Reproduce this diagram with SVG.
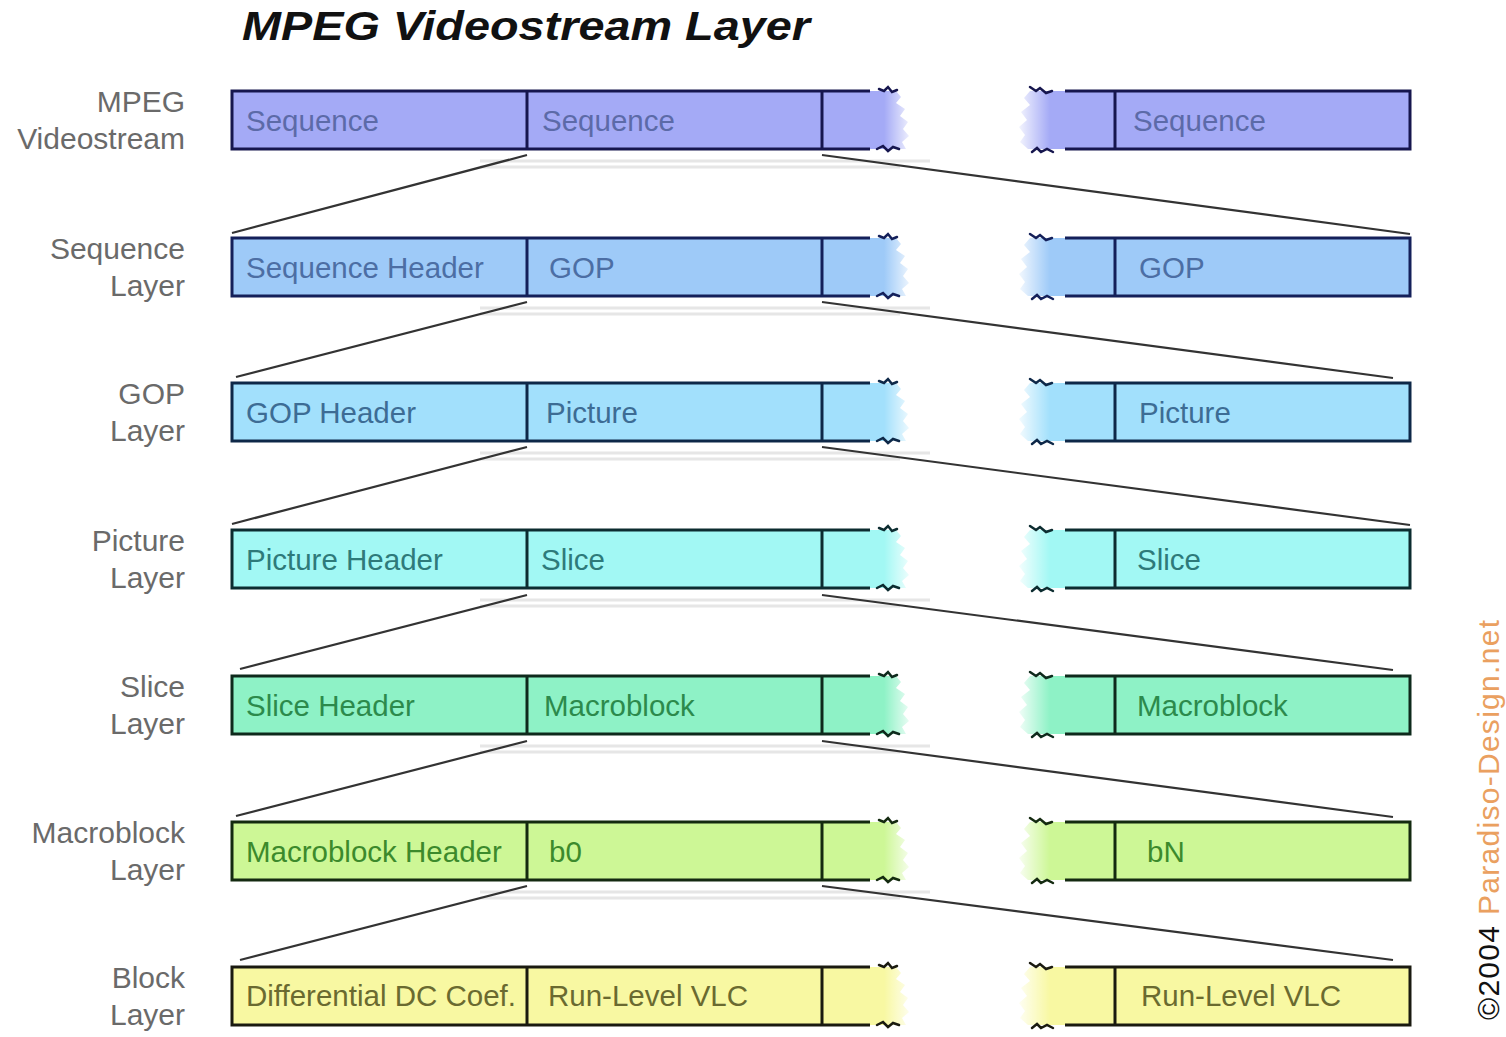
<svg xmlns="http://www.w3.org/2000/svg" xmlns:xlink="http://www.w3.org/1999/xlink" width="1506" height="1037" viewBox="0 0 1506 1037">
  <style>
    .title { font-family: "Liberation Sans", Arial, sans-serif; font-weight: 900; font-style: italic; font-size: 40px; fill: #111; }
    .side { font-family: "Liberation Sans", Arial, sans-serif; font-size: 30px; fill: #6a6a6a; text-anchor: end; }
    .cell { font-family: "Liberation Sans", Arial, sans-serif; font-size: 29.5px; }
    .link { stroke: #333; stroke-width: 2.2; fill: none; }
    .ghost { stroke: #e6e6e6; stroke-width: 3; fill: none; }
    .copy { font-family: "Liberation Sans", Arial, sans-serif; font-size: 30px; }
  </style>
  <defs>
    <linearGradient id="fadeR" x1="0" y1="0" x2="1" y2="0">
      <stop offset="0" stop-color="#fff" stop-opacity="0"/>
      <stop offset="1" stop-color="#fff" stop-opacity="0.95"/>
    </linearGradient>
    <linearGradient id="fadeL" x1="0" y1="0" x2="1" y2="0">
      <stop offset="0" stop-color="#fff" stop-opacity="0.95"/>
      <stop offset="1" stop-color="#fff" stop-opacity="0"/>
    </linearGradient>
    <!-- one stream row: fill taken from the <use> fill, lines from its color -->
    <g id="frame">
      <rect x="232" y="0" width="648" height="58"/>
      <path d="M870,0 H896 L901,6 L896,12 L905,18 L900,25 L908,31 L903,38 L909,45 L902,51 L906,58 H870 Z"/>
      <rect x="884" y="-2" width="30" height="62" fill="url(#fadeR)"/>
      <rect x="1115" y="0" width="295" height="58"/>
      <path d="M1116,0 H1030 L1024,7 L1030,14 L1021,21 L1027,29 L1019,36 L1025,44 L1020,51 L1028,58 H1116 Z"/>
      <rect x="1016" y="-2" width="34" height="62" fill="url(#fadeL)"/>
      <g fill="none" stroke="currentColor" stroke-width="3">
        <path d="M870,0 H232 V58 H870"/>
        <path d="M527,0 V58 M822,0 V58"/>
        <path d="M1065,0 H1410 V58 H1065"/>
        <path d="M1115,0 V58"/>
      </g>
      <g fill="none" stroke="currentColor" stroke-width="2.5" stroke-linecap="round">
        <path d="M879,-2 l5,2 4,-4 4,5 5,-2"/>
        <path d="M877,58 l6,-3 5,5 5,-4 6,2"/>
        <path d="M1030,-4 l6,4 4,-3 6,5 6,-2"/>
        <path d="M1032,61 l5,-4 4,4 6,-3 6,3"/>
      </g>
    </g>
  </defs>

  <text class="title" x="242" y="40" textLength="568" lengthAdjust="spacingAndGlyphs">MPEG Videostream Layer</text>

  <!-- faint horizontal streaks under each row -->
  <g id="streaks">
    <path class="ghost" d="M480,161 H930 M480,167 H900"/>
    <path class="ghost" d="M480,308 H930 M480,314 H900"/>
    <path class="ghost" d="M480,453 H930 M480,459 H900"/>
    <path class="ghost" d="M480,600 H930 M480,606 H900"/>
    <path class="ghost" d="M480,746 H930 M480,752 H900"/>
    <path class="ghost" d="M480,892 H930 M480,898 H900"/>
  </g>

  <!-- expansion lines from a cell to the layer below -->
  <g id="connectors">
    <path class="link" d="M527,155 L232,233 M822,155 L1410,234"/>
    <path class="link" d="M527,302 L236,377 M822,302 L1393,378"/>
    <path class="link" d="M527,447 L232,524 M822,447 L1410,525"/>
    <path class="link" d="M527,595 L240,669 M822,595 L1393,670"/>
    <path class="link" d="M527,741 L236,816 M822,741 L1393,817"/>
    <path class="link" d="M527,886 L240,960 M822,886 L1393,960"/>
  </g>

  <g id="row-videostream">
    <use xlink:href="#frame" y="91" fill="#a4aaf6" color="#16164e"/>
    <text class="side" x="185" y="112">MPEG</text>
    <text class="side" x="185" y="149">Videostream</text>
    <g class="cell" fill="#5c6aa8">
      <text x="246" y="131">Sequence</text>
      <text x="542" y="131">Sequence</text>
      <text x="1133" y="131">Sequence</text>
    </g>
  </g>

  <g id="row-sequence">
    <use xlink:href="#frame" y="238" fill="#9ecaf8" color="#14205a"/>
    <text class="side" x="185" y="259">Sequence</text>
    <text class="side" x="185" y="296">Layer</text>
    <g class="cell" fill="#4c6ea4">
      <text x="246" y="278">Sequence Header</text>
      <text x="549" y="278">GOP</text>
      <text x="1139" y="278">GOP</text>
    </g>
  </g>

  <g id="row-gop">
    <use xlink:href="#frame" y="383" fill="#a2e0fc" color="#0e2848"/>
    <text class="side" x="185" y="404">GOP</text>
    <text class="side" x="185" y="441">Layer</text>
    <g class="cell" fill="#3d6c94">
      <text x="246" y="423">GOP Header</text>
      <text x="546" y="423">Picture</text>
      <text x="1139" y="423">Picture</text>
    </g>
  </g>

  <g id="row-picture">
    <use xlink:href="#frame" y="530" fill="#a2f8f4" color="#0c2c30"/>
    <text class="side" x="185" y="551">Picture</text>
    <text class="side" x="185" y="588">Layer</text>
    <g class="cell" fill="#2e7a7a">
      <text x="246" y="570">Picture Header</text>
      <text x="541" y="570">Slice</text>
      <text x="1137" y="570">Slice</text>
    </g>
  </g>

  <g id="row-slice">
    <use xlink:href="#frame" y="676" fill="#8ef2c6" color="#0e2a1c"/>
    <text class="side" x="185" y="697">Slice</text>
    <text class="side" x="185" y="734">Layer</text>
    <g class="cell" fill="#2c8a4c">
      <text x="246" y="716">Slice Header</text>
      <text x="544" y="716">Macroblock</text>
      <text x="1137" y="716">Macroblock</text>
    </g>
  </g>

  <g id="row-macroblock">
    <use xlink:href="#frame" y="822" fill="#cdf796" color="#142a10"/>
    <text class="side" x="185" y="843">Macroblock</text>
    <text class="side" x="185" y="880">Layer</text>
    <g class="cell" fill="#3c8a2c">
      <text x="246" y="862">Macroblock Header</text>
      <text x="549" y="862">b0</text>
      <text x="1147" y="862">bN</text>
    </g>
  </g>

  <g id="row-block">
    <use xlink:href="#frame" y="967" fill="#f8f8a2" color="#1a1a10"/>
    <text class="side" x="185" y="988">Block</text>
    <text class="side" x="185" y="1025">Layer</text>
    <g class="cell" fill="#6a6a30">
      <text x="246" y="1006">Differential DC Coef.</text>
      <text x="548" y="1006">Run-Level VLC</text>
      <text x="1141" y="1006">Run-Level VLC</text>
    </g>
  </g>

  <text class="copy" transform="translate(1499,1020) rotate(-90)" textLength="400" lengthAdjust="spacing"><tspan fill="#111">©2004 </tspan><tspan fill="#eaa060">Paradiso-Design.net</tspan></text>
</svg>
